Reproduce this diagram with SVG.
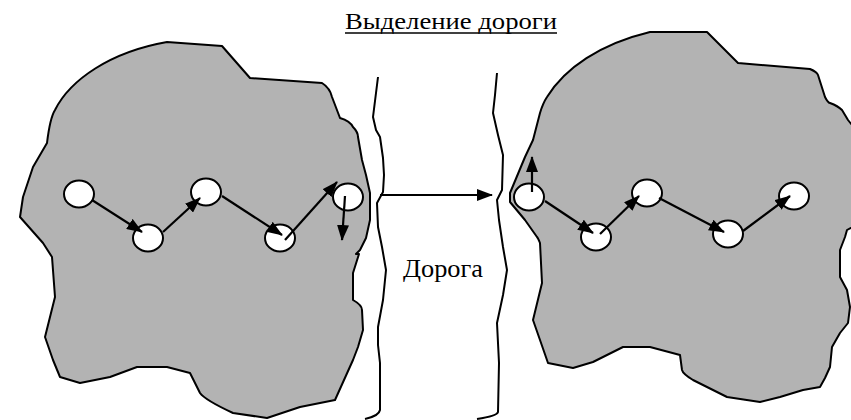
<svg xmlns="http://www.w3.org/2000/svg" width="851" height="420" viewBox="0 0 851 420">
<style>
.blob{fill:#b3b3b3;stroke:#000;stroke-width:2;stroke-linejoin:round}
.road{fill:none;stroke:#000;stroke-width:2;stroke-linejoin:round}
.node{fill:#fff;stroke:#000;stroke-width:2}
.arr{fill:none;stroke:#000;stroke-width:2.2;marker-end:url(#ah)}
.txt{font-family:"Liberation Serif","Times New Roman",serif;font-size:24px;fill:#000}
</style>
<defs>
<marker id="ah" markerUnits="userSpaceOnUse" markerWidth="16" markerHeight="12" refX="15" refY="6" orient="auto">
<path d="M0,0 L16,6 L0,12 z" fill="#000"/>
</marker>
</defs>
<rect width="851" height="420" fill="#fff"/>
<g id="title">
<text class="txt" x="345" y="29" textLength="212" lengthAdjust="spacingAndGlyphs">Выделение дороги</text>
<line x1="345" y1="33" x2="557" y2="33" stroke="#000" stroke-width="1.6"/>
</g>
<g id="region-left">
<path class="blob" d="M167,42 L222,46 L250,78 L322,83 Q330,88 332,97 L340,118 Q350,121 353,127 Q358,132 358,137 L362,160 L366,175 L370,193 L370,220 L366,238 L360,250 L356,254 L359,254 L353,273 L353,300 Q362,305 362,310 L363,330 L358,347 L353,360 L335,400 L300,407 L267,418 L233,413 Q205,400 200,393 L190,373 L167,367 L137,367 L110,377 L80,383 L60,377 L53,360 L45,337 L55,297 L52,257 L43,243 L20,217 L23,197 L33,167 L47,143 Q50,118 55,110 C70,80 110,52 167,42 Z"/>
</g>
<g id="region-right">
<path class="blob" d="M650,32 L707,32 L738,63 L810,69 Q817,72 818,75 L825,97 Q828,103 830,103 Q838,106 842,110 L848,120 L856,130 L856,225 L847,230 L845,237 L840,250 L840,277 L847,290 L850,307 L848,323 L840,333 L832,347 L830,367 L825,378 L820,387 L803,390 L780,397 L760,402 L727,397 L693,380 Q683,374 682,370 L680,355 L650,347 L623,347 L593,362 L573,368 L548,363 L540,340 L533,320 L542,283 L540,243 Q538,238 537,237 L525,220 L510,202 L510,193 L525,157 L533,140 L540,113 Q543,103 547,97 C565,68 600,44 650,32 Z"/>
</g>
<g id="road">
<path class="road" d="M378,77 L373,117 L376,130 L380,137 L383,158 L384,175 L383,192 L377,203 L378,227 L382,247 L386,270 L383,300 L378,327 L378,345 L380,363 L380,410 Q379,416 365,419"/>
<path class="road" d="M497,73 L495,95 L493,113 L498,135 L503,155 L502,190 L497,200 L499,220 L503,247 L507,270 L503,295 L497,323 L499,363 L498,412 Q497,416 477,419"/>
<text class="txt" x="403" y="277" style="font-size:26px" textLength="80" lengthAdjust="spacingAndGlyphs">Дорога</text>
</g>
<g id="nodes-left">
<ellipse id="l1" class="node" cx="79" cy="194" rx="15" ry="13.5"/>
<ellipse id="l2" class="node" cx="148" cy="238" rx="15" ry="13.5"/>
<ellipse id="l3" class="node" cx="206" cy="192" rx="15" ry="13.5"/>
<ellipse id="l4" class="node" cx="280" cy="238" rx="15" ry="13.5"/>
<ellipse id="l5" class="node" cx="348" cy="197" rx="15" ry="13.5"/>
</g>
<g id="nodes-right">
<ellipse id="r1" class="node" cx="529" cy="197" rx="15" ry="13.5"/>
<ellipse id="r2" class="node" cx="596" cy="237" rx="15" ry="13.5"/>
<ellipse id="r3" class="node" cx="647" cy="193" rx="15" ry="13.5"/>
<ellipse id="r4" class="node" cx="728" cy="234" rx="15" ry="13.5"/>
<ellipse id="r5" class="node" cx="794" cy="196" rx="15" ry="13.5"/>
</g>
<g id="connectors">
<line class="arr" x1="92" y1="200" x2="142" y2="232"/>
<line class="arr" x1="163" y1="232" x2="200" y2="198"/>
<line class="arr" x1="222" y1="196" x2="282" y2="235"/>
<line class="arr" x1="285" y1="240" x2="337" y2="182"/>
<line class="arr" x1="345" y1="196" x2="342" y2="240"/>
<line class="arr" x1="380" y1="195" x2="492" y2="195"/>
<line class="arr" x1="532" y1="192" x2="532" y2="157"/>
<line class="arr" x1="545" y1="201" x2="593" y2="233"/>
<line class="arr" x1="600" y1="234" x2="639" y2="196"/>
<line class="arr" x1="659" y1="198" x2="724" y2="232"/>
<line class="arr" x1="743" y1="231" x2="790" y2="196"/>
</g>
</svg>
